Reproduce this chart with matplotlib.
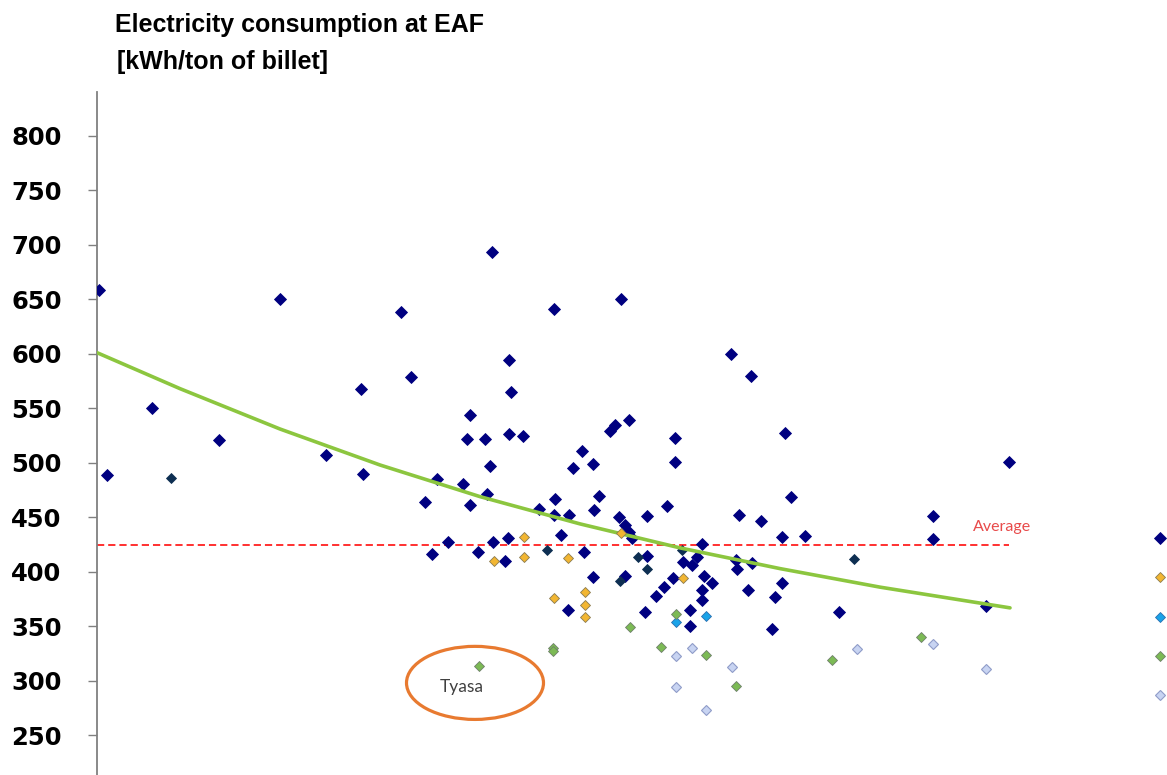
import matplotlib
matplotlib.use("Agg")
import matplotlib.pyplot as plt
from matplotlib.patches import Ellipse

# ---------------- data (x in arbitrary position units, y in kWh/ton) ----------------
navy_x = [0.2, 1.0, 5.5, 12.2, 18.3, 22.9, 26.4, 26.6, 30.4, 31.4, 32.8, 33.5, 34.0, 35.1,
          36.6, 37.0, 37.3, 37.3, 38.1, 38.8, 39.0, 39.3, 39.5, 39.6, 40.8, 41.1, 41.2, 41.2,
          41.4, 42.6, 44.2, 45.7, 45.7, 45.8, 46.4, 47.1, 47.2, 47.6, 48.5, 48.7, 49.6, 49.6,
          49.7, 50.2, 51.3, 51.8, 52.2, 52.4, 52.8, 52.8, 53.2, 53.2, 53.5, 54.8, 55.0, 55.0,
          55.9, 56.7, 57.0, 57.6, 57.8, 57.8, 58.6, 59.3, 59.3, 59.5, 60.0, 60.5, 60.5, 60.5,
          60.7, 61.5, 63.4, 63.9, 64.0, 64.2, 65.1, 65.4, 65.5, 66.4, 67.5, 67.8, 68.5, 68.5,
          68.8, 69.4, 70.8, 74.2, 83.6, 83.6, 88.9, 91.2]
navy_y = [658, 489, 550, 521, 650, 507, 568, 490, 638, 579, 464, 416, 485, 427,
          481, 522, 544, 461, 418, 522, 471, 497, 693, 427, 410, 431, 594, 526,
          565, 525, 458, 641, 452, 467, 434, 365, 452, 495, 511, 418, 499, 395,
          457, 470, 529, 535, 450, 650, 396, 443, 539, 437, 431, 363, 451, 415,
          378, 386, 460, 394, 523, 501, 409, 365, 350, 406, 414, 426, 383, 374,
          396, 390, 600, 411, 403, 452, 383, 580, 408, 447, 348, 377, 390, 432,
          527, 469, 433, 363, 451, 430, 369, 501]

slate_x = [7.4, 45.0, 52.3, 54.1, 55.0, 58.5, 75.7]
slate_y = [486, 420, 392, 414, 403, 420, 412]

gold_x = [39.7, 42.7, 42.7, 47.1, 45.7, 48.8, 48.8, 48.8, 52.4, 58.6]
gold_y = [410, 432, 414, 413, 376, 382, 370, 359, 436, 394]

cyan_x = [57.9, 60.9]
cyan_y = [354, 360]

green_x = [38.2, 45.6, 45.6, 53.3, 56.4, 57.9, 60.9, 63.9, 73.5, 82.4]
green_y = [314, 330, 327, 349, 331, 361, 324, 295, 319, 340]

lav_x = [57.9, 59.5, 63.5, 57.9, 60.9, 76.0, 83.6, 88.9]
lav_y = [323, 330, 313, 294, 273, 329, 334, 311]

trend_x = [0, 8.3, 18.3, 28.3, 38.3, 48.3, 58.3, 68.3, 78.3, 91.3]
trend_y = [601, 568, 531, 498, 469, 444, 422, 403, 386, 367]

avg_value = 425
avg_x = [0, 91.2]

yticks = [250, 300, 350, 400, 450, 500, 550, 600, 650, 700, 750, 800]

title_line1 = "Electricity consumption at EAF"
title_line2 = "[kWh/ton of billet]"

# ---------------- figure ----------------
W, H = 1167, 775
fig = plt.figure(figsize=(W / 100, H / 100), dpi=100)
ax_left = 97 / W
ax_width = 1004 / W
y200 = 136 + 600 * 1.09
ax_bottom = (H - y200) / H
ax_height = (y200 - 92) / H
ax = fig.add_axes([ax_left, ax_bottom, ax_width, ax_height])
ax.set_xlim(0, 100.4)
ax.set_ylim(200, 840)

ax.spines["top"].set_visible(False)
ax.spines["right"].set_visible(False)
ax.spines["bottom"].set_visible(False)
ax.spines["left"].set_color("#808080")
ax.spines["left"].set_linewidth(1.3)
ax.set_xticks([])
ax.set_yticks(yticks)
ax.set_yticklabels([str(v) for v in yticks], fontfamily="DejaVu Sans",
                   fontweight="bold", fontsize=17.5)
ax.tick_params(axis="y", direction="out", length=6.5, width=1.0, color="#808080",
               pad=19)

# average line
ax.plot(avg_x, [avg_value, avg_value], color="#ff2020", lw=1.3,
        linestyle=(0, (4, 2.2)), zorder=2)

# trend line
ax.plot(trend_x, trend_y, color="#8cc63f", lw=2.6, solid_capstyle="round",
        solid_joinstyle="round", zorder=4)

# scatter series
h_navy, = ax.plot(navy_x, navy_y, "D", ms=6.4, color="#000080", mec="#000080",
                  mew=0.6, zorder=3, linestyle="none")
ax.plot(slate_x, slate_y, "D", ms=5.6, color="#0e2f52", mec="#0e2f52",
        mew=0.6, zorder=3, linestyle="none")
h_gold, = ax.plot(gold_x, gold_y, "D", ms=5.2, color="#f2b632", mec="#8a7a50",
                  mew=0.6, zorder=5, linestyle="none")
h_cyan, = ax.plot(cyan_x, cyan_y, "D", ms=5.2, color="#1aa3e8", mec="#2a6fb0",
                  mew=0.6, zorder=5, linestyle="none")
h_green, = ax.plot(green_x, green_y, "D", ms=5.2, color="#7cba55", mec="#6e7f6a",
                   mew=0.6, zorder=5, linestyle="none")
h_lav, = ax.plot(lav_x, lav_y, "D", ms=5.2, color="#c8d4f2", mec="#8f9cc8",
                 mew=0.8, zorder=5, linestyle="none")

# annotations
ax.text(90.5, 441, "Average", color="#e84a4a", fontfamily="Lato", fontsize=11.5,
        ha="center", va="center")
ax.add_patch(Ellipse((37.8, 298.2), 13.7, 67, fill=False, edgecolor="#e87a30",
                     lw=2.3, zorder=6))
ax.text(36.5, 294.5, "Tyasa", color="#404040", fontfamily="Lato", fontsize=12.5,
        ha="center", va="center", zorder=7)

# legend markers (labels cut off in the reference)
leg = fig.legend([h_navy, h_gold, h_cyan, h_green, h_lav], [""] * 5,
                 loc="upper left", bbox_to_anchor=(1153 / W, 1 - 532 / H),
                 frameon=False, fontsize=10, labelspacing=1.82, handlelength=1.0,
                 borderpad=0, borderaxespad=0, handletextpad=0.2, numpoints=1,
                 markerscale=0.9)

# titles
fig.text(115 / W, 1 - 25 / H, title_line1, fontfamily="Liberation Sans",
         fontweight="bold", fontsize=18, va="center", ha="left")
fig.text(117 / W, 1 - 62 / H, title_line2, fontfamily="Liberation Sans",
         fontweight="bold", fontsize=18, va="center", ha="left")

fig.savefig("out.png", dpi=100)
